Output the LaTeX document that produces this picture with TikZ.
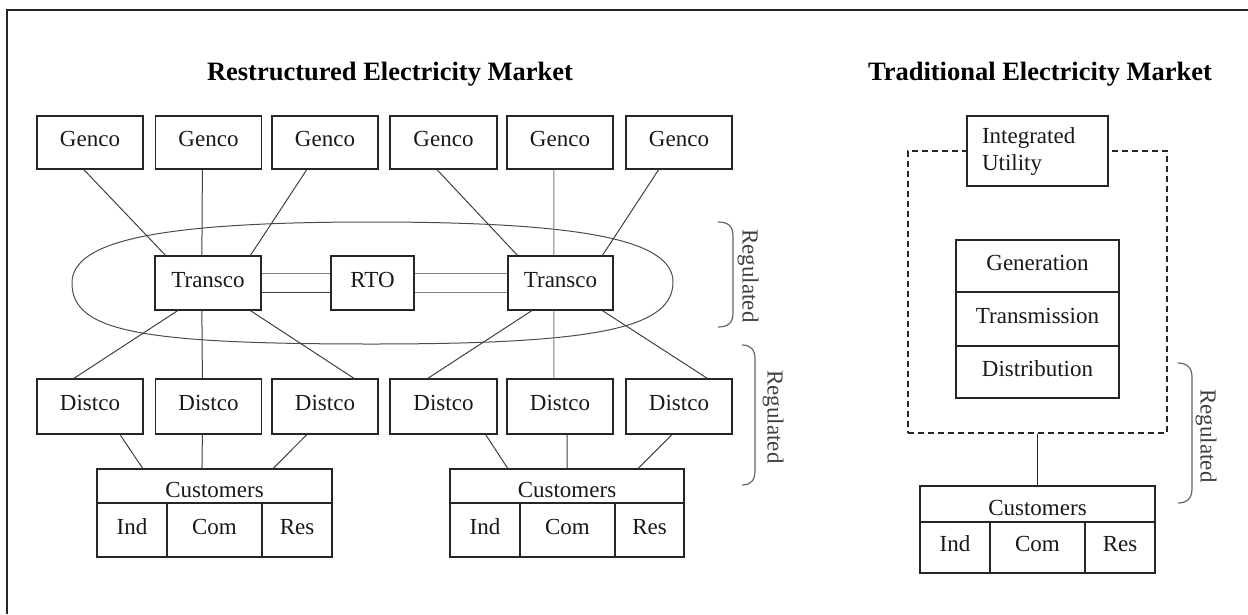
\documentclass[tikz,border=0pt]{standalone}
\usepackage{fontspec}
\setmainfont{Liberation Serif}
\usetikzlibrary{calc}
\newcommand{\labfont}{\fontsize{23}{27}\selectfont}
\newcommand{\headfont}{\fontsize{26.5}{30}\selectfont\bfseries}

\begin{document}
\begin{tikzpicture}[x=1pt,y=-1pt,
  box/.style={draw=black!85, line width=1.3pt, fill=white, inner sep=0pt,
    text height=16pt, text depth=8pt, font=\labfont, text=black!90},
  unit/.style={box, minimum width=106pt, minimum height=54pt},
  hdr/.style={box, text height=22pt, text depth=0pt},
  link/.style={draw=black!75, line width=1pt},
  faint/.style={draw=black!50, line width=1pt},
  oval/.style={draw=black!70, line width=1pt},
  brk/.style={draw=black!60, line width=1.2pt},
  reg/.style={font=\labfont, text=black!75, rotate=-90, inner sep=0pt},
  ttl/.style={font=\headfont, text=black, inner sep=0pt, anchor=base},
  dashbox/.style={draw=black!85, line width=1.3pt, dash pattern=on 6pt off 4pt, inner sep=0pt},
]
\useasboundingbox (0,0) rectangle (1248,614);

% outer frame (top and left edges)
\draw[line width=1.5pt, black!85] (1248,10) -- (7,10) -- (7,614);

% titles
\node[ttl] (rtitle) at (390,80) {Restructured Electricity Market};
\node[ttl] (ttitle) at (1040,80) {Traditional Electricity Market};

% regulated transmission ring
\draw[oval] (72,283) .. controls (72,240) and (162,222) .. (372,222)
  .. controls (583,222) and (673,240) .. (673,282)
  .. controls (673,328) and (598,344) .. (372,344)
  .. controls (138,344) and (72,331) .. (72,283) -- cycle;

% generation companies
\node[unit, minimum height=53pt] (g1) at (90,142.5) {Genco};
\node[unit, minimum height=53pt] (g2) at (208.5,142.5) {Genco};
\node[unit, minimum height=53pt] (g3) at (325,142.5) {Genco};
\node[unit, minimum height=53pt, minimum width=107pt] (g4) at (443.5,142.5) {Genco};
\node[unit, minimum height=53pt] (g5) at (560,142.5) {Genco};
\node[unit, minimum height=53pt] (g6) at (679,142.5) {Genco};

% transmission companies and RTO
\node[unit] (t1) at (208,283) {Transco};
\node[unit, minimum width=83pt] (rto) at (372.5,283) {RTO};
\node[unit, minimum width=105pt] (t2) at (560.5,283) {Transco};

% distribution companies
\node[unit, minimum height=55pt] (d1) at (90,406.5) {Distco};
\node[unit, minimum height=55pt] (d2) at (208.5,406.5) {Distco};
\node[unit, minimum height=55pt] (d3) at (325,406.5) {Distco};
\node[unit, minimum height=55pt, minimum width=107pt] (d4) at (443.5,406.5) {Distco};
\node[unit, minimum height=55pt] (d5) at (560,406.5) {Distco};
\node[unit, minimum height=55pt] (d6) at (679,406.5) {Distco};

% customer blocks, restructured side
\node[hdr, minimum width=235pt, minimum height=34pt] (c1) at (214.5,486) {Customers};
\node[box, minimum width=70pt, minimum height=54pt] (c1ind) at (132,530) {Ind};
\node[box, minimum width=95pt, minimum height=54pt] (c1com) at (214.5,530) {Com};
\node[box, minimum width=70pt, minimum height=54pt] (c1res) at (297,530) {Res};

\node[hdr, minimum width=234pt, minimum height=34pt] (c2) at (567,486) {Customers};
\node[box, minimum width=70pt, minimum height=54pt] (c2ind) at (485,530) {Ind};
\node[box, minimum width=95pt, minimum height=54pt] (c2com) at (567.5,530) {Com};
\node[box, minimum width=69pt, minimum height=54pt] (c2res) at (649.5,530) {Res};

% Genco -> Transco
\draw[link] ($(g1.south west)!0.443!(g1.south east)$) -- ($(t1.north west)!0.104!(t1.north east)$);
\draw[link] ($(g2.south west)!0.443!(g2.south east)$) -- ($(t1.north west)!0.443!(t1.north east)$);
\draw[link] ($(g3.south west)!0.330!(g3.south east)$) -- ($(t1.north west)!0.896!(t1.north east)$);
\draw[link] ($(g4.south west)!0.440!(g4.south east)$) -- ($(t2.north west)!0.095!(t2.north east)$);
\draw[faint] ($(g5.south west)!0.443!(g5.south east)$) -- ($(t2.north west)!0.438!(t2.north east)$);
\draw[link] ($(g6.south west)!0.310!(g6.south east)$) -- ($(t2.north west)!0.895!(t2.north east)$);

% Transco <-> RTO (double ties)
\draw[faint] ($(t1.north east)!0.333!(t1.south east)$) -- ($(rto.north west)!0.333!(rto.south west)$);
\draw[link] ($(t1.north east)!0.667!(t1.south east)$) -- ($(rto.north west)!0.667!(rto.south west)$);
\draw[faint] ($(rto.north east)!0.333!(rto.south east)$) -- ($(t2.north west)!0.333!(t2.south west)$);
\draw[faint] ($(rto.north east)!0.667!(rto.south east)$) -- ($(t2.north west)!0.667!(t2.south west)$);

% Transco -> Distco
\draw[link] ($(t1.south west)!0.217!(t1.south east)$) -- ($(d1.north west)!0.350!(d1.north east)$);
\draw[link] ($(t1.south west)!0.443!(t1.south east)$) -- ($(d2.north west)!0.443!(d2.north east)$);
\draw[link] ($(t1.south west)!0.896!(t1.south east)$) -- ($(d3.north west)!0.770!(d3.north east)$);
\draw[link] ($(t2.south west)!0.230!(t2.south east)$) -- ($(d4.north west)!0.355!(d4.north east)$);
\draw[faint] ($(t2.south west)!0.438!(t2.south east)$) -- ($(d5.north west)!0.443!(d5.north east)$);
\draw[link] ($(t2.south west)!0.895!(t2.south east)$) -- ($(d6.north west)!0.764!(d6.north east)$);

% Distco -> Customers
\draw[link] ($(d1.south west)!0.780!(d1.south east)$) -- ($(c1.north west)!0.196!(c1.north east)$);
\draw[link] ($(d2.south west)!0.443!(d2.south east)$) -- ($(c1.north west)!0.447!(c1.north east)$);
\draw[link] ($(d3.south west)!0.330!(d3.south east)$) -- ($(c1.north west)!0.749!(c1.north east)$);
\draw[link] ($(d4.south west)!0.890!(d4.south east)$) -- ($(c2.north west)!0.248!(c2.north east)$);
\draw[link] ($(d5.south west)!0.566!(d5.south east)$) -- ($(c2.north west)!0.500!(c2.north east)$);
\draw[link] ($(d6.south west)!0.434!(d6.south east)$) -- ($(c2.north west)!0.803!(c2.north east)$);

% regulated brackets, restructured side
\draw[brk] (718,222) .. controls (728,222) and (733,226) .. (733,236) -- (733,313)
  .. controls (733,323) and (728,327) .. (718,327);
\node[reg] (reg1) at (748,276) {Regulated};
\draw[brk] (742,345) .. controls (751,345) and (755,350) .. (755,359) -- (755,471)
  .. controls (755,480) and (751,485) .. (742,485);
\node[reg] (reg2) at (773,417) {Regulated};

% traditional vertically integrated utility
\node[dashbox, minimum width=259pt, minimum height=282pt] (frame) at (1037.5,292) {};
\node[box, minimum width=141pt, minimum height=70pt, text width=111pt, align=left,
  inner xsep=15pt, text height=, text depth=] (iu) at (1037.5,151) {Integrated\\Utility};
\node[box, minimum width=163pt, minimum height=52pt] (gen) at (1037.5,266) {Generation};
\node[box, minimum width=163pt, minimum height=54pt] (trans) at (1037.5,319) {Transmission};
\node[box, minimum width=163pt, minimum height=52pt] (dist) at (1037.5,372) {Distribution};

\node[hdr, minimum width=235pt, minimum height=36pt] (c3) at (1037.5,504) {Customers};
\node[box, minimum width=70pt, minimum height=51pt] (c3ind) at (955,547.5) {Ind};
\node[box, minimum width=95pt, minimum height=51pt] (c3com) at (1037.5,547.5) {Com};
\node[box, minimum width=70pt, minimum height=51pt] (c3res) at (1120,547.5) {Res};

\draw[link, black!85] (frame.south) -- (c3.north);

\draw[brk] (1178,363) .. controls (1187,363) and (1192,368) .. (1192,377) -- (1192,489)
  .. controls (1192,498) and (1187,503) .. (1178,503);
\node[reg] (reg3) at (1206,436) {Regulated};
\end{tikzpicture}
\end{document}
